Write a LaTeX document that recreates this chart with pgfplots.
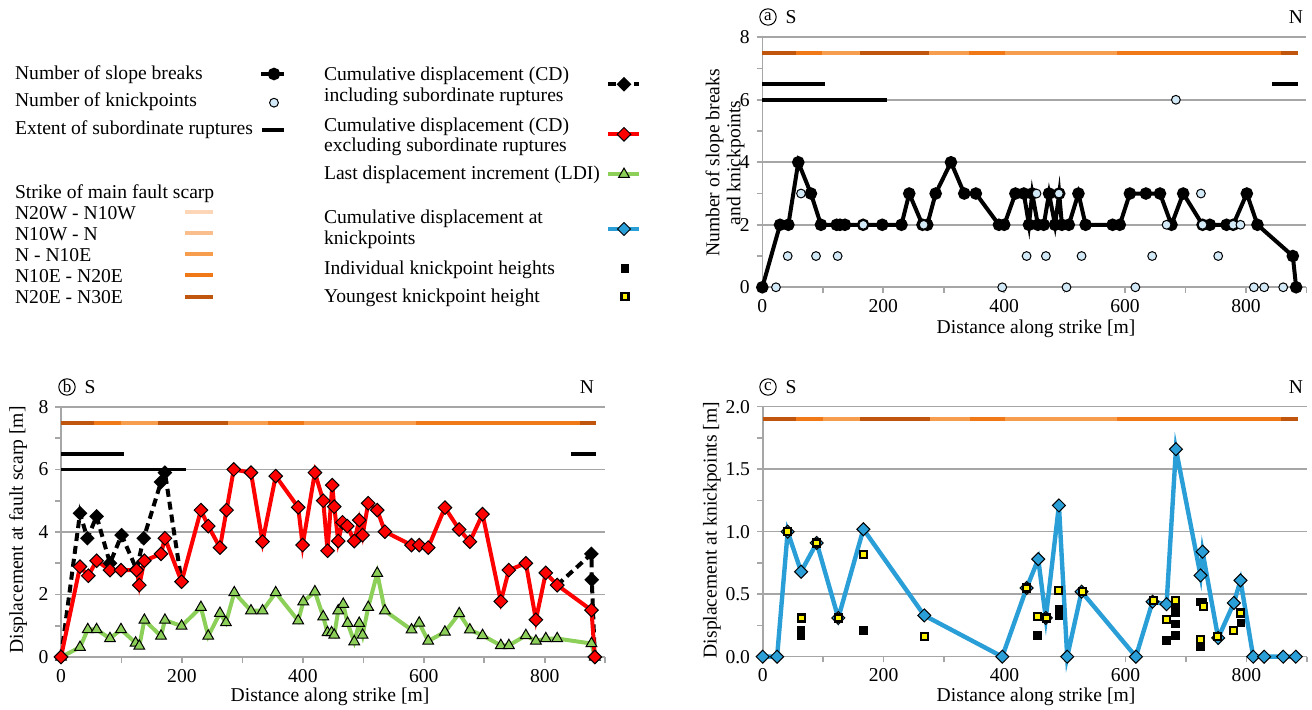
\documentclass[border=0pt]{standalone}
\usepackage{fontspec}
\setmainfont{Liberation Serif}
\usepackage{pgfplots}
\pgfplotsset{compat=1.18}

\definecolor{cA}{RGB}{252,214,182}
\definecolor{cB}{RGB}{250,190,140}
\definecolor{cC}{RGB}{246,158,78}
\definecolor{cD}{RGB}{240,120,22}
\definecolor{cE}{RGB}{192,86,14}
\definecolor{gridg}{RGB}{166,166,166}
\definecolor{kpblue}{RGB}{210,234,248}
\definecolor{cdblue}{RGB}{42,158,214}
\definecolor{ldigreen}{RGB}{140,208,90}
\newcommand\lbl{\fontsize{9.8}{10.5}\selectfont}

\pgfplotsset{
 panel/.style={
  scale only axis, width=272.1pt, height=125pt,
  xmin=0, xmax=900,
  axis x line*=bottom, axis y line*=left,
  axis line style={gridg, line width=0.8pt},
  every tick/.style={gridg, line width=0.8pt},
  tick align=outside,
  major tick length=2.8pt, minor tick length=2.8pt,
  xtick={0,200,...,800}, minor xtick={100,300,...,900},
  ymajorgrids, major grid style={gridg, line width=0.8pt},
  tick label style={font=\lbl, text=black},
  xticklabel style={inner sep=0pt, yshift=-3.0pt},
  /pgf/number format/assume math mode=true,
  clip=false,
 },
 band/.style={line width=2pt, forget plot},
 sub/.style={black, line width=1.8pt, forget plot},
 reddia/.style={mark=square*, mark size=2.4pt, mark options={rotate=45, fill=red, draw=black, line width=0.5pt, solid}},
 bluedia/.style={mark=square*, mark size=2.3pt, mark options={rotate=45, fill=cdblue, draw=black, line width=0.5pt, solid}},
 blkdia/.style={mark=square*, mark size=1.6pt, mark options={rotate=45, fill=black, draw=black, solid}},
 grtri/.style={mark=triangle*, mark size=3.1pt, mark options={fill=ldigreen, draw=black, line width=0.5pt, solid}},
 kpcirc/.style={mark=*, mark size=2.2pt, mark options={fill=kpblue, draw=black, line width=0.5pt}},
 blksq/.style={mark=square*, mark size=1.85pt, mark options={fill=black, draw=black}},
 yelsq/.style={mark=square*, mark size=1.75pt, mark options={fill=yellow, draw=black, line width=1.1pt}},
}

\begin{document}
\begin{tikzpicture}
\path[use as bounding box] (0,0) rectangle (656pt,355pt);

% ---------------- panel (a)
\begin{axis}[panel, at={(381.15pt,211.35pt)}, anchor=south west,
  ymin=0, ymax=8, ytick={0,2,4,6,8}, minor ytick={1,3,5,7}]
\addplot[band, cE] coordinates {(0,7.5)(55,7.5)};
\addplot[band, cD] coordinates {(55,7.5)(99,7.5)};
\addplot[band, cC] coordinates {(99,7.5)(161,7.5)};
\addplot[band, cE] coordinates {(161,7.5)(276.5,7.5)};
\addplot[band, cC] coordinates {(276.5,7.5)(342.5,7.5)};
\addplot[band, cD] coordinates {(342.5,7.5)(401.5,7.5)};
\addplot[band, cC] coordinates {(401.5,7.5)(586.5,7.5)};
\addplot[band, cD] coordinates {(586.5,7.5)(858,7.5)};
\addplot[band, cE] coordinates {(858,7.5)(885.5,7.5)};
\addplot[sub] coordinates {(0,6.5)(104,6.5)};
\addplot[sub] coordinates {(0,6)(206.5,6)};
\addplot[sub] coordinates {(843,6.5)(885.5,6.5)};
\addplot[black, line width=2pt, mark=*, mark size=2.1pt] coordinates {
(0,0)(29.3,2)(43.1,2)(59.5,4)(80.4,3)(97,2)(123,2)(128.5,2)(136.7,2)(166.7,2)(198.4,2)(230.2,2)(243,3)(264.9,2)(272.8,2)(286.7,3)(312,4)(334,3)(353.2,3)(391.3,2)(400.1,2)(418.6,3)(432.5,3)(441,2)(446.4,3)(455.8,2)(465.5,2)(474.2,3)(484.1,2)(491,3)(495.5,2)(506.9,2)(522.8,3)(534.7,2)(579.3,2)(591.2,2)(607.9,3)(634.4,3)(657.7,3)(676.7,2)(696.1,3)(728.1,2)(740.2,2)(767.8,2)(778.7,2)(801.3,3)(818.9,2)(877.4,1)(882.9,0)};
\addplot[only marks, kpcirc] coordinates {
(22.6,0)(42,1)(64,3)(88.8,1)(124.6,1)(167,2)(266.9,2)(396.8,0)(437.1,1)(453.5,3)(469,1)(490.5,3)(503.1,0)(528,1)(617,0)(644.8,1)(668.6,2)(684,6)(725.4,3)(728.1,2)(754,1)(778.7,2)(790.8,2)(813,0)(830,0)(861.5,0)};
\end{axis}

% ---------------- panel (b)
\begin{axis}[panel, at={(30.5pt,26.5pt)}, anchor=south west,
  ymin=0, ymax=8, ytick={0,2,4,6,8}, minor ytick={1,3,5,7}]
\addplot[band, cE] coordinates {(0,7.5)(55,7.5)};
\addplot[band, cD] coordinates {(55,7.5)(99,7.5)};
\addplot[band, cC] coordinates {(99,7.5)(161,7.5)};
\addplot[band, cE] coordinates {(161,7.5)(276.5,7.5)};
\addplot[band, cC] coordinates {(276.5,7.5)(342.5,7.5)};
\addplot[band, cD] coordinates {(342.5,7.5)(401.5,7.5)};
\addplot[band, cC] coordinates {(401.5,7.5)(586.5,7.5)};
\addplot[band, cD] coordinates {(586.5,7.5)(858,7.5)};
\addplot[band, cE] coordinates {(858,7.5)(885.5,7.5)};
\addplot[sub] coordinates {(0,6.5)(104,6.5)};
\addplot[sub] coordinates {(0,6)(207,6)};
\addplot[sub] coordinates {(843,6.5)(885.5,6.5)};
% LDI
\addplot[ldigreen, line width=2pt, grtri] coordinates {
(0,0)(31.4,0.31)(44.3,0.88)(58.9,0.88)(81,0.59)(99.2,0.88)(123.4,0.45)(129.5,0.35)(137.9,1.18)(165.4,0.67)(171.9,1.18)(199.4,0.99)(231.4,1.59)(243.5,0.67)(262.9,1.40)(272.8,1.1)(286.6,2.06)(314.2,1.48)(333.3,1.48)(355.1,2.06)(392.3,1.16)(400.7,1.77)(419.9,2.09)(433.7,1.29)(440.8,0.78)(447.5,0.78)(451.9,0.70)(458.5,1.48)(466.8,1.69)(474,1.08)(485,0.49)(493.2,1.08)(498.8,0.70)(508.1,1.59)(523,2.68)(535.7,1.48)(579.7,0.87)(592.4,1.09)(607.3,0.51)(634.9,0.8)(658.6,1.39)(676.2,0.87)(697.2,0.69)(727.4,0.37)(740.7,0.37)(768.8,0.69)(785.4,0.51)(801.8,0.59)(820.6,0.59)(877.3,0.43)(882.9,0)};
% CD including subordinate ruptures
\addplot[black, line width=2pt, dash pattern=on 4pt off 2.5pt, blkdia] coordinates {
(0,0)(31.4,4.6)(43.6,3.8)(58.9,4.5)(81,3.0)(100.2,3.9)(125,2.8)(136.7,3.8)(165.4,5.6)(171.9,5.9)(199.4,2.41)};
\addplot[black, line width=2pt, dash pattern=on 4pt off 2.5pt, blkdia] coordinates {
(820.6,2.3)(877.3,3.3)(877.8,2.47)(882.9,0)};
% CD excluding subordinate ruptures
\addplot[red, line width=2pt, reddia] coordinates {
(0,0)(31.4,2.89)(45.1,2.6)(58.9,3.08)(81,2.78)(99.2,2.78)(125,2.78)(129.5,2.3)(137.9,3.08)(165.4,3.3)(171.9,3.8)(199.4,2.41)(231.4,4.7)(243.5,4.19)(262.9,3.5)(273.8,4.7)(285.7,6.0)(314.2,5.9)(333.3,3.69)(355.1,5.79)(392.3,4.79)(399.6,3.58)(419.9,5.9)(433.7,5.0)(440.8,3.4)(448.6,5.5)(451.9,4.81)(458.5,3.71)(465.6,4.31)(473.4,4.19)(485,3.71)(493.2,4.38)(498.8,3.9)(508.1,4.92)(523,4.7)(535.7,4.01)(579.7,3.58)(592.4,3.58)(607.3,3.5)(634.9,4.78)(658.6,4.08)(676.2,3.69)(697.2,4.57)(727.4,1.78)(740.7,2.78)(768.8,3.0)(785.4,1.19)(801.8,2.69)(820.6,2.3)(877.3,1.5)(882.9,0)};
\end{axis}

% ---------------- panel (c)
\begin{axis}[panel, at={(381.35pt,26.65pt)}, anchor=south west,
  ymin=0, ymax=2, ytick={0,0.5,1,1.5,2}, minor ytick={0.25,0.75,1.25,1.75},
  yticklabel style={/pgf/number format/.cd, fixed, fixed zerofill, precision=1}]
\addplot[band, cE] coordinates {(0,1.9)(55,1.9)};
\addplot[band, cD] coordinates {(55,1.9)(99,1.9)};
\addplot[band, cC] coordinates {(99,1.9)(161,1.9)};
\addplot[band, cE] coordinates {(161,1.9)(276.5,1.9)};
\addplot[band, cC] coordinates {(276.5,1.9)(342.5,1.9)};
\addplot[band, cD] coordinates {(342.5,1.9)(401.5,1.9)};
\addplot[band, cC] coordinates {(401.5,1.9)(586.5,1.9)};
\addplot[band, cD] coordinates {(586.5,1.9)(858,1.9)};
\addplot[band, cE] coordinates {(858,1.9)(885.5,1.9)};
\addplot[cdblue, line width=2.2pt, bluedia] coordinates {
(0,0)(23.8,0)(41.3,1.0)(63.5,0.68)(89.3,0.91)(125,0.31)(166.5,1.02)(267.2,0.33)(396.2,0)(436.5,0.55)(455.7,0.78)(468.2,0.31)(489.9,1.21)(503.6,0)(527.3,0.52)(617.2,0)(644.8,0.44)(667.9,0.42)(683.4,1.66)(724.1,0.65)(727.4,0.84)(753.3,0.15)(779.2,0.43)(790.2,0.61)(811.2,0)(829.3,0)(860.8,0)(881.7,0)};
\addplot[only marks, blksq] coordinates {
(63.5,0.21)(63.5,0.17)(166.5,0.21)(454.6,0.17)(489.7,0.38)(489.7,0.33)(667.9,0.13)(682.8,0.39)(682.8,0.35)(682.8,0.26)(682.8,0.17)(724.2,0.44)(724.2,0.08)(728.5,0.44)(790.8,0.27)};
\addplot[only marks, yelsq] coordinates {
(41.3,1.0)(63.5,0.31)(89.3,0.91)(125,0.31)(166.5,0.82)(267.2,0.16)(436.5,0.55)(454.6,0.32)(469.5,0.31)(489.7,0.53)(528.7,0.52)(645.9,0.45)(667.9,0.30)(682.8,0.45)(724.2,0.14)(728.5,0.40)(752.2,0.16)(779.2,0.21)(790.8,0.35)};
\end{axis}

% ---------------- canvas: legend and labels (pixel coordinates)
\begin{axis}[at={(0,0)}, anchor=south west, scale only axis, width=656pt, height=355pt,
  xmin=0, xmax=1312, ymin=0, ymax=710, y dir=reverse, hide axis, clip=false]
% legend block 1
\node[font=\lbl, anchor=base west] at (8,79.5) {Number of slope breaks};
\node[font=\lbl, anchor=base west] at (8,107) {Number of knickpoints};
\node[font=\lbl, anchor=base west] at (8,135) {Extent of subordinate ruptures};
\addplot[black, line width=2pt, mark=*, mark size=2.1pt, mark indices={2}] coordinates {(261,74)(274,74)(284,74)};
\addplot[only marks, kpcirc] coordinates {(274,102.7)};
\addplot[black, line width=1.8pt] coordinates {(262,130)(284,130)};
\node[font=\lbl, anchor=base west] at (8,198.5) {Strike of main fault scarp};
\node[font=\lbl, anchor=base west] at (8,219.5) {N20W - N10W};
\node[font=\lbl, anchor=base west] at (8,240.5) {N10W - N};
\node[font=\lbl, anchor=base west] at (8,261.5) {N - N10E};
\node[font=\lbl, anchor=base west] at (8,282.5) {N10E - N20E};
\node[font=\lbl, anchor=base west] at (8,303.5) {N20E - N30E};
\addplot[cA, line width=2pt] coordinates {(185,212.3)(213,212.3)};
\addplot[cB, line width=2pt] coordinates {(185,233)(213,233)};
\addplot[cC, line width=2pt] coordinates {(185,254)(213,254)};
\addplot[cD, line width=2pt] coordinates {(185,275.5)(213,275.5)};
\addplot[cE, line width=2pt] coordinates {(185,296.7)(213,296.7)};
% legend block 2
\node[font=\lbl, anchor=base west] at (317,80.5) {Cumulative displacement (CD)};
\node[font=\lbl, anchor=base west] at (317,101.5) {including subordinate ruptures};
\node[font=\lbl, anchor=base west] at (317,131.5) {Cumulative displacement (CD)};
\node[font=\lbl, anchor=base west] at (317,152) {excluding subordinate ruptures};
\node[font=\lbl, anchor=base west] at (317,179.5) {Last displacement increment (LDI)};
\node[font=\lbl, anchor=base west] at (317,223.5) {Cumulative displacement at};
\node[font=\lbl, anchor=base west] at (317,245) {knickpoints};
\node[font=\lbl, anchor=base west] at (317,274.5) {Individual knickpoint heights};
\node[font=\lbl, anchor=base west] at (317,302.5) {Youngest knickpoint height};
\addplot[black, line width=2pt, dash pattern=on 4pt off 2.5pt, blkdia, mark indices={2}] coordinates {(608,84.3)(624,84.3)(639,84.3)};
\addplot[red, line width=2pt, reddia, mark indices={2}] coordinates {(608,134.3)(624,134.3)(639,134.3)};
\addplot[ldigreen, line width=2pt, grtri, mark indices={2}] coordinates {(608,174.3)(624,174.3)(639,174.3)};
\addplot[cdblue, line width=2pt, bluedia, mark indices={2}] coordinates {(608,229)(624,229)(639,229)};
\addplot[only marks, blksq] coordinates {(625,268.3)};
\addplot[only marks, yelsq] coordinates {(625,296.7)};
% panel titles
\node[draw, circle, inner sep=0pt, minimum size=8.2pt, line width=0.5pt, font=\fontsize{8.5}{9}\selectfont] at (768,17) {a};
\node[font=\lbl] at (791,17) {S};
\node[font=\lbl] at (1296,17) {N};
\node[draw, circle, inner sep=0pt, minimum size=8.2pt, line width=0.5pt, font=\fontsize{8.5}{9}\selectfont] at (67,387) {b};
\node[font=\lbl] at (90,387) {S};
\node[font=\lbl] at (587,387) {N};
\node[draw, circle, inner sep=0pt, minimum size=8.2pt, line width=0.5pt, font=\fontsize{8.5}{9}\selectfont] at (768,387) {c};
\node[font=\lbl] at (791,387) {S};
\node[font=\lbl] at (1296,387) {N};
% axis labels
\node[font=\lbl, inner sep=0pt] at (1036,329) {Distance along strike [m]};
\node[font=\lbl, inner sep=0pt] at (330,697) {Distance along strike [m]};
\node[font=\lbl, inner sep=0pt] at (1036,697) {Distance along strike [m]};
\node[font=\lbl, inner sep=0pt, rotate=90, align=center] at (725,163) {Number of slope breaks\\and knickpoints};
\node[font=\lbl, inner sep=0pt, rotate=90] at (18,530) {Displacement at fault scarp [m]};
\node[font=\lbl, inner sep=0pt, rotate=90] at (712,530) {Displacement at knickpoints [m]};
\end{axis}
\end{tikzpicture}
\end{document}
